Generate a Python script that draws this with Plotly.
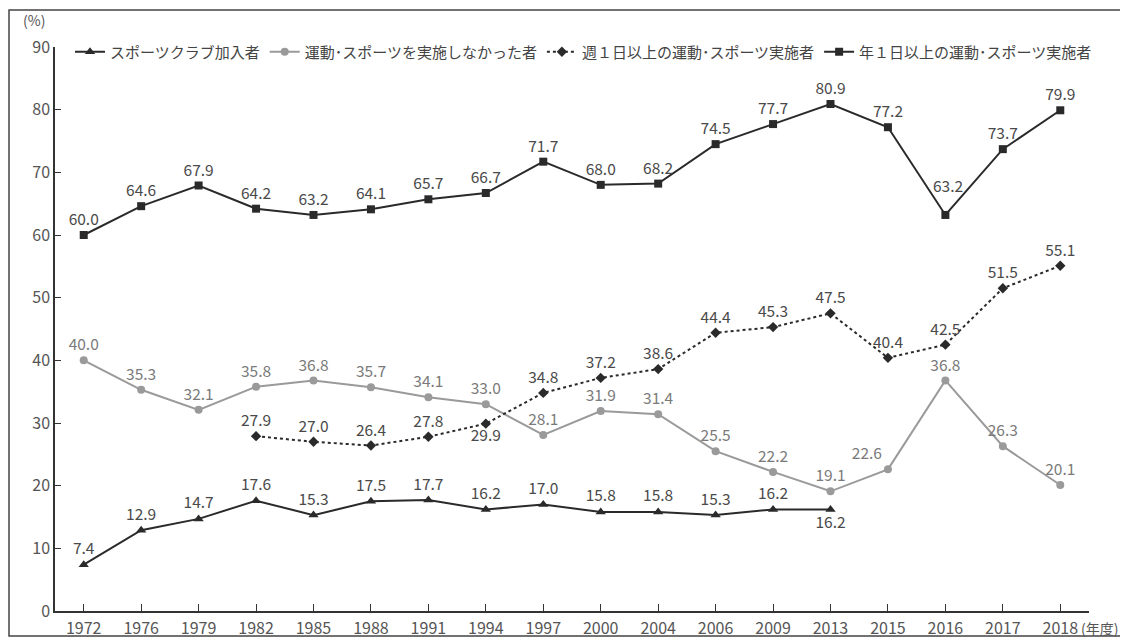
import plotly.graph_objects as go

years = ["1972", "1976", "1979", "1982", "1985", "1988", "1991", "1994", "1997",
         "2000", "2004", "2006", "2009", "2013", "2015", "2016", "2017", "2018"]

club_years = years[:14]
club = [7.4, 12.9, 14.7, 17.6, 15.3, 17.5, 17.7, 16.2, 17.0, 15.8, 15.8, 15.3, 16.2, 16.2]

none_years = years
none_vals = [40.0, 35.3, 32.1, 35.8, 36.8, 35.7, 34.1, 33.0, 28.1, 31.9, 31.4, 25.5,
             22.2, 19.1, 22.6, 36.8, 26.3, 20.1]

weekly_years = years[3:]
weekly = [27.9, 27.0, 26.4, 27.8, 29.9, 34.8, 37.2, 38.6, 44.4, 45.3, 47.5, 40.4,
          42.5, 51.5, 55.1]

yearly_years = years
yearly = [60.0, 64.6, 67.9, 64.2, 63.2, 64.1, 65.7, 66.7, 71.7, 68.0, 68.2, 74.5,
          77.7, 80.9, 77.2, 63.2, 73.7, 79.9]

names = ["スポーツクラブ加入者", "運動･スポーツを実施しなかった者",
         "週１日以上の運動･スポーツ実施者", "年１日以上の運動･スポーツ実施者"]

FONT = "Noto Sans CJK JP"
DARK = "#2a2a2a"
DARKTXT = "#4a4a4a"
GRAY = "#9a9a9a"
GRAYTXT = "#7a7a7a"
LBL = 15.5

# page body has an 8px margin; figure is laid out so the plot lands at the
# same screen pixels as the reference (plot: x 55..1089, y 47..611)
OFF = 8
W, H = 1128 - OFF, 644 - OFF
PL, PR, PT, PB = 55, 1089, 47, 611
PW, PH = PR - PL, PB - PT


def px(x):
    return (x - PL) / PW


def py(y):
    return (PB - y) / PH


def pos(n, special):
    p = ["top center"] * n
    for i, v in special.items():
        p[i] = v
    return p


fig = go.Figure()

fig.add_trace(go.Scatter(
    x=club_years, y=club, name=names[0], mode="lines+markers+text",
    line=dict(color=DARK, width=2),
    marker=dict(symbol="triangle-up", size=9, color=DARK),
    text=[f"{v:.1f}" for v in club],
    textposition=pos(len(club), {13: "bottom center"}),
    textfont=dict(family=FONT, size=LBL, color=DARKTXT),
    cliponaxis=False,
))

fig.add_trace(go.Scatter(
    x=none_years, y=none_vals, name=names[1], mode="lines+markers+text",
    line=dict(color=GRAY, width=2),
    marker=dict(symbol="circle", size=8, color=GRAY),
    text=[f"{v:.1f}" for v in none_vals],
    textposition=pos(len(none_vals), {14: "top left"}),
    textfont=dict(family=FONT, size=LBL, color=GRAYTXT),
    cliponaxis=False,
))

fig.add_trace(go.Scatter(
    x=weekly_years, y=weekly, name=names[2], mode="lines+markers+text",
    line=dict(color=DARK, width=2, dash="dot"),
    marker=dict(symbol="diamond", size=8, color=DARK),
    text=[f"{v:.1f}" for v in weekly],
    textposition=pos(len(weekly), {4: "bottom center"}),
    textfont=dict(family=FONT, size=LBL, color=DARKTXT),
    cliponaxis=False,
))

yearly_text = [f"{v:.1f}" for v in yearly]
yearly_text[15] = ""  # drawn as a raised annotation below
fig.add_trace(go.Scatter(
    x=yearly_years, y=yearly, name=names[3], mode="lines+markers+text",
    line=dict(color=DARK, width=2),
    marker=dict(symbol="square", size=8, color=DARK),
    text=yearly_text,
    textposition="top center",
    textfont=dict(family=FONT, size=LBL, color=DARKTXT),
    cliponaxis=False,
))

fig.update_layout(
    width=W, height=H,
    margin=dict(l=PL - OFF, r=W - (PR - OFF), t=PT - OFF, b=H - (PB - OFF),
                autoexpand=False),
    paper_bgcolor="white", plot_bgcolor="white",
    font=dict(family=FONT, size=16, color="#555"),
    showlegend=True,
    legend=dict(orientation="h", x=px(70), y=py(52), xanchor="left", yanchor="middle",
                font=dict(family=FONT, size=15, color="#444"),
                bgcolor="rgba(0,0,0,0)", itemwidth=30, tracegroupgap=0),
    xaxis=dict(type="category", categoryorder="array", categoryarray=years,
               range=[-0.5, 17.5], showline=True, linecolor="#333", linewidth=1.5,
               ticks="inside", ticklen=7, tickcolor="#333", showgrid=False,
               zeroline=False, automargin=False, ticklabelstandoff=2,
               tickfont=dict(family=FONT, size=16, color="#555")),
    yaxis=dict(range=[0, 90], dtick=10, showline=True, linecolor="#333", linewidth=1.5,
               ticks="inside", ticklen=6, tickcolor="#333", showgrid=False,
               zeroline=False, automargin=False,
               tickfont=dict(family=FONT, size=16, color="#555")),
    shapes=[dict(type="rect", xref="paper", yref="paper",
                 x0=px(9), x1=px(1121), y0=py(636), y1=py(10),
                 line=dict(color="#444", width=1.5))],
    annotations=[
        dict(text="(%)", xref="paper", yref="paper", x=px(21), y=py(20),
             xanchor="left", yanchor="middle", showarrow=False,
             font=dict(family=FONT, size=14, color="#555")),
        dict(text="(年度)", xref="paper", yref="paper", x=px(1079), y=py(628),
             xanchor="left", yanchor="middle", showarrow=False,
             font=dict(family=FONT, size=14, color="#555")),
        dict(text=f"{yearly[15]:.1f}", x=years.index(yearly_years[15]), y=yearly[15],
             xref="x", yref="y", showarrow=False, yshift=30, xshift=3,
             font=dict(family=FONT, size=LBL, color=DARKTXT)),
    ],
)

fig.write_html("out.html")
